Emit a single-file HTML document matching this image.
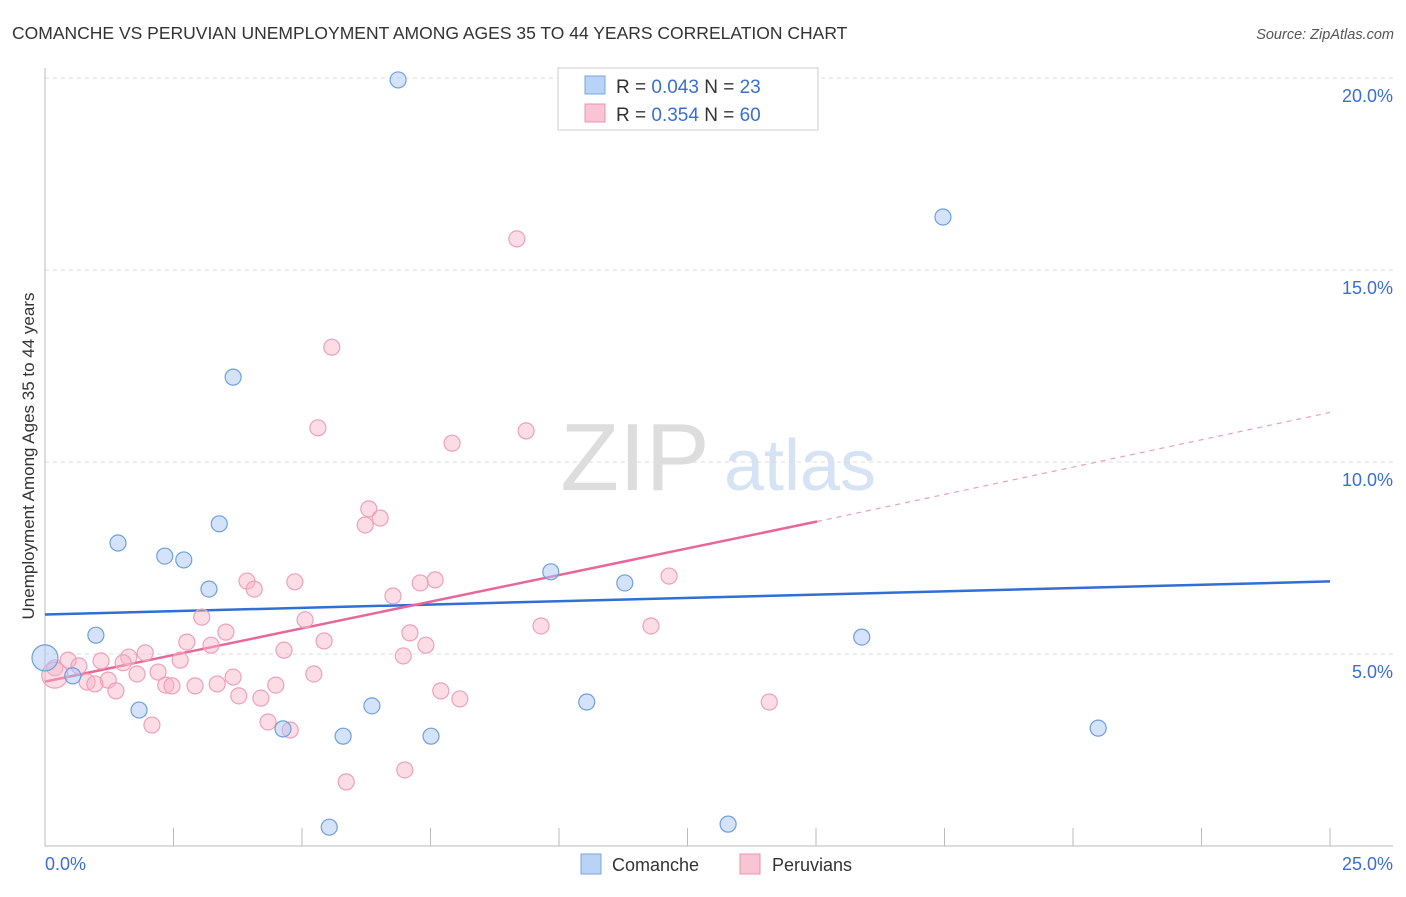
<!DOCTYPE html>
<html><head><meta charset="utf-8"><style>
body{margin:0;background:#fff;font-family:"Liberation Sans",sans-serif;}
svg text{font-family:"Liberation Sans",sans-serif;}
</style></head><body>
<svg id="c" width="1406" height="892" xmlns="http://www.w3.org/2000/svg">
<text x="12" y="39" font-size="17.5" fill="#333">COMANCHE VS PERUVIAN UNEMPLOYMENT AMONG AGES 35 TO 44 YEARS CORRELATION CHART</text>
<text x="1394" y="39" font-size="14.5" fill="#555" text-anchor="end" font-style="italic">Source: ZipAtlas.com</text>
<g>
<text x="635" y="490" font-size="96" fill="#ddd" text-anchor="middle" font-family="Liberation Serif">ZIP</text>
<text x="800" y="490" font-size="72" fill="#d5e3f5" text-anchor="middle">atlas</text>
</g>
<g id="grid"></g><g id="axes"></g><g id="lines"></g><g id="pts"></g>
<text transform="translate(34,456) rotate(-90)" font-size="17" fill="#333" text-anchor="middle">Unemployment Among Ages 35 to 44 years</text>
<g>
<rect x="558" y="68" width="260" height="62" fill="#fff" stroke="#ccc"/>
<rect x="585" y="76" width="20" height="18" fill="#b8d3f5" stroke="#7aa5e0"/>
<rect x="585" y="104" width="20" height="18" fill="#f9c4d3" stroke="#ec93ae"/>
<text x="616" y="93" font-size="19" fill="#333">R = <tspan fill="#3a6fd0">0.043</tspan>   N = <tspan fill="#3a6fd0"> 23</tspan></text>
<text x="616" y="121" font-size="19" fill="#333">R = <tspan fill="#3a6fd0"> 0.354</tspan>   N = <tspan fill="#3a6fd0">60</tspan></text>
</g>
<g>
<rect x="581" y="854" width="20" height="20" fill="#b8d3f5" stroke="#7aa5e0"/>
<text x="612" y="871" font-size="18" fill="#333">Comanche</text>
<rect x="740" y="854" width="20" height="20" fill="#f9c4d3" stroke="#ec93ae"/>
<text x="772" y="871" font-size="18" fill="#333">Peruvians</text>
</g>
</svg>
<script>
const yTicks=[5,10,15,20];
const yTickLabels=["5.0%","10.0%","15.0%","20.0%"];
const xTickLabels=["0.0%","25.0%"];
const comancheX=[6.87,17.47,3.66,3.39,1.42,2.33,2.70,3.19,9.84,11.28,0.99,15.89,0,0.54,1.83,6.36,4.63,5.80,7.51,10.54,20.49,5.53,13.29];
const comancheY=[19.95,16.38,12.21,8.39,7.89,7.55,7.45,6.69,7.14,6.85,5.49,5.44,4.9,4.43,3.54,3.65,3.05,2.86,2.86,3.75,3.07,0.49,0.57];
const peruX=[9.18,5.58,5.31,7.92,9.36,6.30,6.52,6.23,12.14,7.59,7.30,3.93,4.07,4.86,6.77,5.06,3.05,9.65,11.79,3.52,7.10,5.43,2.76,3.23,7.41,1.95,4.65,1.63,6.97,2.63,1.09,1.52,0.45,0.66,0.19,2.20,1.79,5.23,3.66,1.23,0.82,0.97,2.35,2.47,2.92,3.35,4.49,1.38,7.70,3.77,4.20,8.07,14.09,2.08,4.34,4.77,7.00,5.86,0.19];
const peruY=[15.81,12.99,10.89,10.49,10.81,8.78,8.54,8.36,7.03,6.93,6.85,6.90,6.69,6.88,6.51,5.89,5.96,5.73,5.73,5.57,5.55,5.34,5.31,5.23,5.23,5.03,5.10,4.92,4.95,4.84,4.82,4.77,4.84,4.69,4.64,4.53,4.48,4.48,4.40,4.32,4.27,4.22,4.19,4.17,4.17,4.22,4.19,4.04,4.04,3.91,3.85,3.83,3.75,3.15,3.23,3.02,1.98,1.67,4.45];
const comancheTrend=[6.03,6.89];
const peruTrendStart=[0,4.28];
const peruTrendEnd=[15.02,8.45];
const peruTrendDashEnd=[25,11.29];
const NS="http://www.w3.org/2000/svg";
const X=v=>45+v/25*1285, Y=v=>846-v*38.4;
function mk(t,a,p){const e=document.createElementNS(NS,t);for(const k in a)e.setAttribute(k,a[k]);document.getElementById(p).appendChild(e);return e;}
yTicks.forEach((t,i)=>{
 const g=mk('line',{x1:45,x2:1393,y1:Y(t),y2:Y(t),stroke:'#ddd','stroke-dasharray':'4,4'},'grid');
 
 
 const l=mk('text',{x:1393,y:Y(t)+24,'font-size':18,fill:'#3a6fd0','text-anchor':'end'},'axes');l.textContent=yTickLabels[i];
 
 
});
let a=mk('line',{x1:45,x2:45,y1:68,y2:846,stroke:'#bbb'},'axes');


a=mk('line',{x1:45,x2:1393,y1:846,y2:846,stroke:'#bbb'},'axes');


for(let i=0;i<=10;i++){const t=mk('line',{x1:X(i*2.5),x2:X(i*2.5),y1:828,y2:846,stroke:'#bbb'},'axes');
 
 }
let xl=mk('text',{x:45,y:870,'font-size':18,fill:'#3a6fd0'},'axes');xl.textContent=xTickLabels[0];


xl=mk('text',{x:1393,y:870,'font-size':18,fill:'#3a6fd0','text-anchor':'end'},'axes');xl.textContent=xTickLabels[1];


peruX.forEach((v,i)=>{const big=i==peruX.length-1;const c=mk('circle',{cx:X(v),cy:Y(peruY[i]),r:big?13:8,fill:'rgba(248,180,200,0.45)',stroke:'#eea0b8','stroke-width':1.2},'pts');
 
 });
comancheX.forEach((v,i)=>{const big=v==0;const c=mk('circle',{cx:X(v),cy:Y(comancheY[i]),r:big?13:8,fill:'rgba(170,200,245,0.5)',stroke:'#6f9fe0','stroke-width':1.2},'pts');
 
 });
let tl=mk('line',{x1:X(0),y1:Y(comancheTrend[0]),x2:X(25),y2:Y(comancheTrend[1]),stroke:'#2f6fd6','stroke-width':2.5},'lines');


tl=mk('line',{x1:X(peruTrendStart[0]),y1:Y(peruTrendStart[1]),x2:X(peruTrendEnd[0]),y2:Y(peruTrendEnd[1]),stroke:'#e8679a','stroke-width':2.5},'lines');


tl=mk('line',{x1:X(peruTrendEnd[0]),y1:Y(peruTrendEnd[1]),x2:X(peruTrendDashEnd[0]),y2:Y(peruTrendDashEnd[1]),stroke:'#e8a0ba','stroke-width':1.2,'stroke-dasharray':'5,5'},'lines');


</script>
</body></html>
